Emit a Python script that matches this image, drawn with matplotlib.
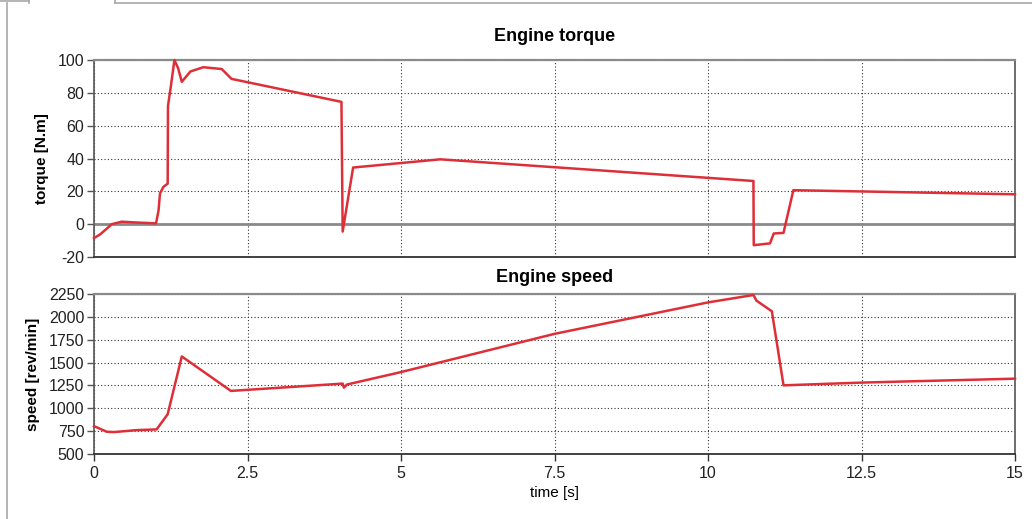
import numpy as np
import matplotlib
matplotlib.use("Agg")
import matplotlib.pyplot as plt
from matplotlib.lines import Line2D

plt.rcParams['font.family'] = ['Liberation Sans', 'DejaVu Sans']
plt.rcParams['axes.unicode_minus'] = False

#engine torque data
torque_time = [0, 0.1, 0.2, 0.29, 0.45, 0.7, 1.01, 1.05, 1.075, 1.13, 1.2, 1.205, 1.25, 1.31, 1.37, 1.43,
               1.57, 1.78, 2.08, 2.24, 4.03, 4.05, 4.22, 5.64, 10.74, 10.745, 11.01, 11.07, 11.23, 11.39, 15]
torque = [-8.5, -6.2, -3, 0, 1.5, 1, 0.5, 8, 18.7, 22.7, 24.7, 72, 83.5, 100, 95, 86.7,
          93, 95.6, 94.5, 88.5, 74.5, -4.5, 34.5, 39.5, 26.3, -12.8, -11.7, -5.7, -5.3, 20.7, 18.2]

#engine speed data
speed_time = [0, 0.21, 0.33, 0.69, 1.02, 1.2, 1.43, 2.23, 4.05, 4.07, 4.12, 5.0, 7.5, 10.0,
              10.74, 10.79, 11.04, 11.23, 12.5, 15]
speed = [805, 743, 740, 761, 769, 935, 1567, 1190, 1270, 1226, 1260, 1396, 1814, 2158,
         2239, 2177, 2061, 1251, 1281, 1324]

x_ticks = [0, 2.5, 5, 7.5, 10, 12.5, 15]
x_tick_labels = ["0", "2.5", "5", "7.5", "10", "12.5", "15"]
torque_ticks = [-20, 0, 20, 40, 60, 80, 100]
speed_ticks = [500, 750, 1000, 1250, 1500, 1750, 2000, 2250]

line_color = '#de2f38'
W, H = 1032, 519

fig = plt.figure(figsize=(W / 100, H / 100), dpi=100)

#axes in pixel positions of the original window
ax1 = fig.add_axes([94 / W, 1 - 257 / H, (1015 - 94) / W, (257 - 60) / H])
ax2 = fig.add_axes([94 / W, 1 - 454 / H, (1015 - 94) / W, (454 - 294) / H])


def style_axes(ax):
    ax.set_xlim(0, 15)
    ax.set_xticks(x_ticks)
    ax.grid(True, color='#333333', linestyle=(0, (1, 2)), linewidth=0.8)
    ax.set_axisbelow(True)
    ax.spines['top'].set_color('#8a8a8a')
    ax.spines['top'].set_linewidth(1.6)
    ax.spines['left'].set_color('#555555')
    ax.spines['left'].set_linewidth(1.2)
    ax.spines['right'].set_color('#555555')
    ax.spines['right'].set_linewidth(1.2)
    ax.spines['bottom'].set_color('#333333')
    ax.spines['bottom'].set_linewidth(1.3)
    ax.tick_params(axis='y', direction='out', length=5, width=1, color='#555555',
                   labelsize=11.5, labelcolor='#222222', pad=2)
    ax.tick_params(axis='x', direction='out', length=5, width=1, color='#333333',
                   labelsize=11.5, labelcolor='#222222', pad=4)


#torque plot
style_axes(ax1)
ax1.axhline(0, color='#8a8a8a', linewidth=2, zorder=1.5)
ax1.plot(torque_time, torque, color=line_color, linewidth=1.8, zorder=3, clip_on=False)
ax1.set_ylim(-20, 100)
ax1.set_yticks(torque_ticks)
ax1.tick_params(axis='x', length=0, labelbottom=False)
ax1.set_ylabel("torque [N.m]", fontsize=11, fontweight='bold', labelpad=6)
ax1.set_title("Engine torque", fontsize=13, fontweight='bold', pad=14)

#speed plot
style_axes(ax2)
ax2.plot(speed_time, speed, color=line_color, linewidth=1.8, zorder=3, clip_on=False)
ax2.set_ylim(500, 2250)
ax2.set_yticks(speed_ticks)
ax2.set_xticklabels(x_tick_labels)
ax2.set_ylabel("speed [rev/min]", fontsize=11, fontweight='bold', labelpad=6)
ax2.set_xlabel("time [s]", fontsize=11, labelpad=3)
ax2.set_title("Engine speed", fontsize=13, fontweight='bold', pad=9)

#window frame lines around the plot
frame_color = '#a8a8a8'
def px_line(x0, y0, x1, y1):
    fig.add_artist(Line2D([x0 / W, x1 / W], [1 - y0 / H, 1 - y1 / H],
                          color=frame_color, linewidth=1.2))

px_line(7, 3, 7, H)
px_line(0, 1, 29, 1)
px_line(29, 0, 29, 3)
px_line(115, 0, 115, 3)
px_line(115, 3, W, 3)

fig.savefig("out.png", dpi=100)
